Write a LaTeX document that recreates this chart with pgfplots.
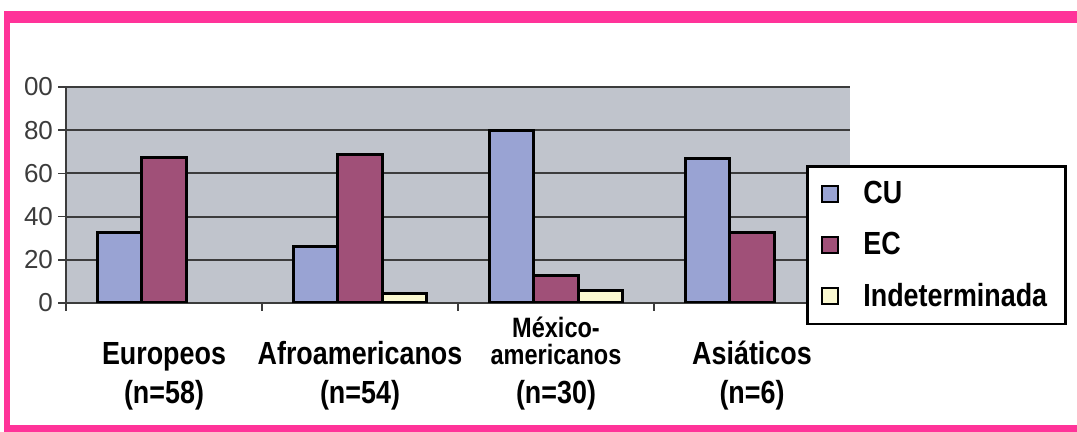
\documentclass[border=0pt]{standalone}
\usepackage{pgfplots}
\pgfplotsset{compat=1.18}
\usepackage{fontspec}
\setmainfont{Liberation Sans}
\newfontfamily\cond[FakeStretch=0.84]{Liberation Sans}
\definecolor{cu}{RGB}{153,163,211}
\definecolor{ec}{RGB}{160,80,120}
\definecolor{ind}{RGB}{250,248,208}
\definecolor{plotbg}{RGB}{192,196,204}
\definecolor{pinkframe}{RGB}{255,51,153}
\definecolor{axgray}{RGB}{60,60,60}
\begin{document}
\begin{tikzpicture}[x=1pt,y=1pt]
\useasboundingbox (0,0) rectangle (538.5,216);
\fill[white] (0,0) rectangle (538.5,216);
\begin{axis}[
  at={(33pt,64.5pt)}, anchor=south west,
  scale only axis, width=392pt, height=108pt,
  xmin=-0.5, xmax=3.5, ymin=0, ymax=100,
  axis background/.style={fill=plotbg},
  axis x line*=bottom, axis y line*=left,
  axis line style={axgray, line width=1pt, -},
  ymajorgrids, grid style={axgray, line width=1pt},
  ytick={0,20,40,60,80,100},
  yticklabels={0,20,40,60,80,00},
  yticklabel style={font=\fontsize{13}{14}\selectfont, text=axgray, xshift=1pt},
  /pgf/number format/assume math mode=true,
  tick align=outside, major tick length=4pt,
  tick style={axgray, line width=0.8pt},
  xtick={-0.5,0.5,1.5,2.5,3.5}, xticklabels={},
  extra x ticks={0,1,2,3},
  extra x tick style={major tick length=0pt},
  extra x tick labels={{Europeos\\(n=58)},{Afroamericanos\\(n=54)},{{\fontsize{14}{12.5}\selectfont\begin{tabular}[b]{@{}c@{}}México-\\americanos\end{tabular}}\\(n=30)},{Asiáticos\\(n=6)}},
  xticklabel style={font=\cond\bfseries\fontsize{16}{19.5}\selectfont, align=center, anchor=south, yshift=-54pt, inner sep=0pt},
  legend style={at={(0.944,0.639)}, anchor=north west, draw=black, line width=1.3pt, fill=white,
    font=\cond\bfseries\fontsize{16}{19}\selectfont, inner xsep=7pt, inner ysep=5.5pt, row sep=8.75pt,
    cells={anchor=west},
    /tikz/every odd column/.append style={column sep=10pt},
    /tikz/every even column/.append style={text width=92pt}},
  legend image code/.code={\draw[#1, line width=1pt] (0pt,-4pt) rectangle (8pt,4pt);},
]
\addplot[ybar, bar width=0.225, bar shift=-0.225, fill=cu, draw=black, line width=1.5pt]
  coordinates {(0,32.5) (1,26) (2,80) (3,67)};
\addplot[ybar, bar width=0.225, bar shift=0, fill=ec, draw=black, line width=1.5pt]
  coordinates {(0,67.4) (1,68.9) (2,12.6) (3,32.6)};
\addplot[ybar, bar width=0.225, bar shift=0.225, fill=ind, draw=black, line width=1.5pt]
  coordinates {(1,4.5) (2,6)};
\legend{CU,EC,Indeterminada}
\end{axis}
\fill[pinkframe] (2,204.5) rectangle (538.5,210.5);
\fill[pinkframe] (2,0) rectangle (5,210.5);
\fill[pinkframe] (2,0) rectangle (538.5,3.5);
\end{tikzpicture}
\end{document}
